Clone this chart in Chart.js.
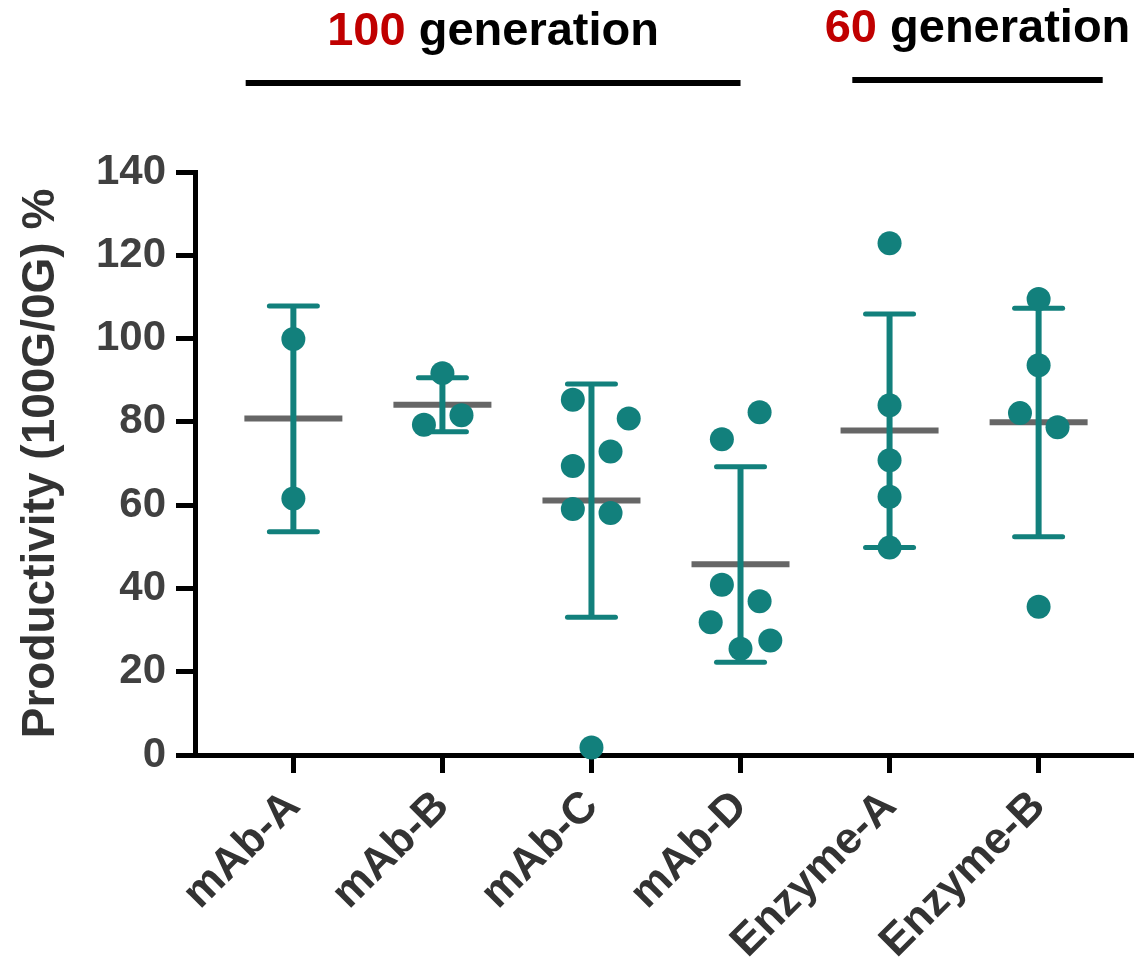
<!DOCTYPE html>
<html>
<head>
<meta charset="utf-8">
<script src="https://cdn.jsdelivr.net/npm/chart.js@4.4.0/dist/chart.umd.min.js"></script>
<style>
  html, body { margin: 0; padding: 0; background: #fff; }
  #wrap { width: 1134px; height: 957px; }
</style>
</head>
<body>
<div id="wrap"><canvas id="myChart" width="1134" height="957"></canvas></div>
<script>
const categories = ["mAb-A", "mAb-B", "mAb-C", "mAb-D", "Enzyme-A", "Enzyme-B"];

// replicate values (productivity 100G/0G, %) and their sideways spread in category units
const mabA = [99.9, 61.6];
const mabAJitter = [0, 0];
const mabB = [91.7, 79.3, 81.6];
const mabBJitter = [0, -0.124, 0.128];
const mabC = [85.3, 80.8, 72.9, 69.4, 59.1, 58.1, 1.8];
const mabCJitter = [-0.125, 0.25, 0.128, -0.125, -0.125, 0.128, 0];
const mabD = [82.3, 75.8, 40.9, 36.9, 31.9, 25.5, 27.5];
const mabDJitter = [0.128, -0.125, -0.125, 0.128, -0.2, 0, 0.2];
const enzA = [122.9, 84.0, 70.8, 62.0, 49.8];
const enzAJitter = [0, 0, 0, 0, 0];
const enzB = [109.5, 93.6, 82.1, 78.7, 35.6];
const enzBJitter = [0, 0, -0.125, 0.127, 0];

// mean and mean ± SD per category
const means = [80.8, 84.1, 61.1, 45.8, 77.9, 79.9];
const sdUpper = [107.8, 90.6, 89.1, 69.2, 105.9, 107.3];
const sdLower = [53.6, 77.6, 33.1, 22.3, 49.8, 52.4];

const yTicks = [0, 20, 40, 60, 80, 100, 120, 140];

// bracket annotations above the plot (category units)
const groupNumbers = ["100", "60"];
const groupFrom = [-0.32, 3.75];
const groupTo = [3.0, 5.43];

const TEAL = "#12807c";
const FONT = "'Liberation Sans', Arial, Helvetica, sans-serif";

const allValues = [mabA, mabB, mabC, mabD, enzA, enzB];
const allJitter = [mabAJitter, mabBJitter, mabCJitter, mabDJitter, enzAJitter, enzBJitter];
const points = [];
allValues.forEach((vals, i) => {
  vals.forEach((v, j) => points.push({ x: i + allJitter[i][j], y: v }));
});

const errorBars = {
  id: "errorBars",
  beforeDatasetsDraw(chart) {
    const { ctx, scales: { x, y } } = chart;
    ctx.save();
    means.forEach((m, i) => {
      const cx = x.getPixelForValue(i);
      // mean line first, whiskers on top of it
      const my = y.getPixelForValue(m);
      ctx.strokeStyle = "#666666";
      ctx.lineWidth = 6;
      ctx.lineCap = "butt";
      ctx.beginPath();
      ctx.moveTo(cx - 49, my);
      ctx.lineTo(cx + 49, my);
      ctx.stroke();

      const top = y.getPixelForValue(sdUpper[i]);
      const bot = y.getPixelForValue(sdLower[i]);
      ctx.strokeStyle = TEAL;
      ctx.beginPath();
      ctx.moveTo(cx, top);
      ctx.lineTo(cx, bot);
      ctx.stroke();
      ctx.lineWidth = 5;
      ctx.lineCap = "round";
      [top, bot].forEach((py) => {
        ctx.beginPath();
        ctx.moveTo(cx - 24, py);
        ctx.lineTo(cx + 24, py);
        ctx.stroke();
      });
    });
    ctx.restore();
  },
};

const groupHeader = {
  id: "groupHeader",
  afterDraw(chart) {
    const { ctx, scales: { x } } = chart;
    ctx.save();
    ctx.font = "bold 47px " + FONT;
    ctx.textBaseline = "alphabetic";
    ctx.textAlign = "left";
    groupNumbers.forEach((num, i) => {
      const x1 = x.getPixelForValue(groupFrom[i]);
      const x2 = x.getPixelForValue(groupTo[i]);
      const mid = (x1 + x2) / 2;
      const barY = i === 0 ? 83 : 80;
      const baseY = i === 0 ? 45 : 42;
      ctx.fillStyle = "#000";
      ctx.fillRect(x1, barY - 3, x2 - x1, 6);
      const rest = " generation";
      const w1 = ctx.measureText(num).width;
      const w2 = ctx.measureText(rest).width;
      const start = mid - (w1 + w2) / 2;
      ctx.fillStyle = "#c00000";
      ctx.fillText(num, start, baseY);
      ctx.fillStyle = "#000";
      ctx.fillText(rest, start + w1, baseY);
    });
    ctx.restore();
  },
};

const ctx = document.getElementById("myChart").getContext("2d");
new Chart(ctx, {
  type: "scatter",
  data: {
    datasets: [
      {
        label: "Productivity",
        data: points,
        backgroundColor: TEAL,
        borderWidth: 0,
        pointRadius: 12,
        pointHoverRadius: 12,
        clip: false,
      },
    ],
  },
  plugins: [errorBars, groupHeader],
  options: {
    responsive: false,
    animation: false,
    layout: {
      autoPadding: false,
      padding: { top: 172, left: 0, right: 0, bottom: 0 },
    },
    plugins: {
      legend: { display: false },
      tooltip: { enabled: false },
    },
    scales: {
      x: {
        type: "linear",
        min: -0.66,
        max: 5.64,
        afterFit: (scale) => {
          scale.height = 202;
          scale.paddingLeft = 0;
          scale.paddingRight = 0;
        },
        afterBuildTicks: (scale) => {
          scale.ticks = categories.map((c, i) => ({ value: i }));
        },
        border: { display: true, color: "#000", width: 5 },
        grid: {
          display: true,
          drawOnChartArea: false,
          drawTicks: true,
          tickLength: 18,
          tickWidth: 5,
          tickColor: "#000",
        },
        ticks: {
          autoSkip: false,
          minRotation: 45,
          maxRotation: 45,
          padding: 11,
          labelOffset: 0,
          color: "#333333",
          font: { family: FONT, size: 44, weight: "bold", lineHeight: 1 },
          callback: (value) => categories[value] ?? "",
        },
      },
      y: {
        min: 0,
        max: 140,
        afterFit: (scale) => { scale.width = 195; },
        afterBuildTicks: (scale) => {
          scale.ticks = yTicks.map((v) => ({ value: v }));
        },
        border: { display: true, color: "#000", width: 5 },
        grid: {
          display: true,
          drawOnChartArea: false,
          drawTicks: true,
          tickLength: 19,
          tickWidth: 5,
          tickColor: "#000",
        },
        ticks: {
          padding: 10,
          color: "#404040",
          font: { family: FONT, size: 42, weight: "bold" },
        },
        title: {
          display: true,
          text: "Productivity (100G/0G) %",
          color: "#333333",
          padding: { top: 14, bottom: 0 },
          font: { family: FONT, size: 46, weight: "bold" },
        },
      },
    },
  },
});
</script>
</body>
</html>
